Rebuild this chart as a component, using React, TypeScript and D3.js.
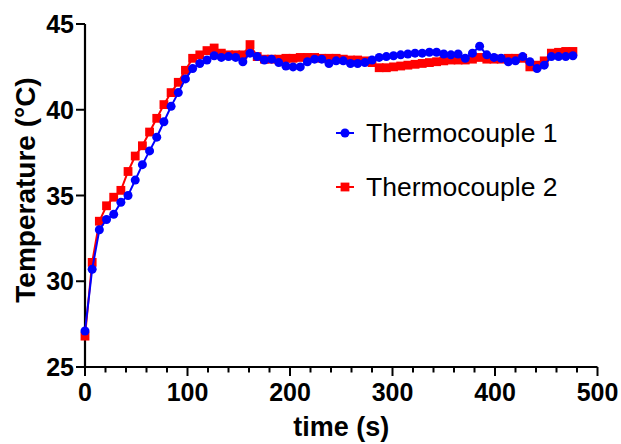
import * as d3 from "d3";
import React, { useEffect, useRef } from "react";

// sample times (s), one reading every 7 s
const times = d3.range(0, 477, 7);

const thermocouple1 = [
  27.1, 30.7, 33.0, 33.6, 33.9, 34.6, 35.0, 35.9, 36.8, 37.6, 38.4, 39.3, 40.2, 41.0, 41.8, 42.4, 42.7, 42.9,
  43.15, 43.05, 43.1, 43.05, 42.8, 43.3, 43.1, 42.9, 42.95, 42.75, 42.55, 42.5, 42.5, 42.8, 42.95, 42.95, 42.7,
  42.85, 42.85, 42.7, 42.7, 42.75, 42.9, 43.05, 43.1, 43.15, 43.2, 43.25, 43.3, 43.3, 43.35, 43.35, 43.25, 43.2,
  43.25, 43.0, 43.3, 43.7, 43.2, 43.05, 43.0, 42.8, 42.85, 43.1, 42.8, 42.4, 42.6, 43.1, 43.1, 43.1, 43.15,
];

const thermocouple2 = [
  26.8, 31.1, 33.5, 34.4, 34.9, 35.3, 36.4, 37.3, 37.9, 38.7, 39.5, 40.3, 41.0, 41.6, 42.3, 43.0, 43.2, 43.45,
  43.6, 43.3, 43.2, 43.2, 43.2, 43.8, 43.1, 42.95, 42.95, 42.95, 43.0, 43.0, 43.05, 43.05, 43.05, 43.0, 43.0,
  43.0, 42.95, 42.9, 42.9, 42.85, 42.75, 42.45, 42.45, 42.5, 42.55, 42.6, 42.65, 42.7, 42.75, 42.8, 42.85, 42.9,
  42.9, 42.9, 42.95, 43.05, 42.95, 42.95, 42.95, 43.0, 43.0, 43.0, 42.5, 42.6, 42.85, 43.3, 43.35, 43.4, 43.4,
];

const seriesNames = ["Thermocouple 1", "Thermocouple 2"];
const seriesColors = ["#0000ff", "#ff0000"];
const xTicks = [0, 100, 200, 300, 400, 500];
const yTicks = [25, 30, 35, 40, 45];

const App: React.FC = () => {
  const svgRef = useRef<SVGSVGElement>(null);

  useEffect(() => {
    const width = 621;
    const height = 444;
    const font = "'Liberation Sans', Arial, Helvetica, sans-serif";

    const x = d3.scaleLinear().domain([0, 500]).range([85, 597.5]);
    const y = d3.scaleLinear().domain([25, 45]).range([367, 24]);

    const svg = d3.select(svgRef.current);
    svg.selectAll("*").remove();
    svg.attr("width", width).attr("height", height).attr("viewBox", `0 0 ${width} ${height}`);

    // x axis
    const xAxis = svg.append("g").attr("transform", `translate(0, ${y(25)})`);
    xAxis
      .append("line")
      .attr("x1", x(0))
      .attr("x2", x(500))
      .attr("stroke", "#000")
      .attr("stroke-width", 2.2);
    xAxis
      .selectAll("line.minor")
      .data(d3.range(0, 501, 20))
      .join("line")
      .attr("class", "minor")
      .attr("x1", (d) => x(d))
      .attr("x2", (d) => x(d))
      .attr("y1", 0)
      .attr("y2", (d) => (d % 100 === 0 ? 9 : 5.5))
      .attr("stroke", "#000")
      .attr("stroke-width", 2);
    xAxis
      .selectAll("text")
      .data(xTicks)
      .join("text")
      .attr("x", (d) => x(d))
      .attr("y", 34)
      .attr("text-anchor", "middle")
      .attr("font-family", font)
      .attr("font-weight", "bold")
      .attr("font-size", 25)
      .text((d) => d);

    // y axis
    const yAxis = svg.append("g").attr("transform", `translate(${x(0)}, 0)`);
    yAxis
      .append("line")
      .attr("y1", y(25) + 1)
      .attr("y2", y(45))
      .attr("stroke", "#000")
      .attr("stroke-width", 2.2);
    yAxis
      .selectAll("line.tick")
      .data(yTicks)
      .join("line")
      .attr("class", "tick")
      .attr("x1", -9)
      .attr("x2", 0)
      .attr("y1", (d) => y(d))
      .attr("y2", (d) => y(d))
      .attr("stroke", "#000")
      .attr("stroke-width", 2);
    yAxis
      .selectAll("text")
      .data(yTicks)
      .join("text")
      .attr("x", -11)
      .attr("y", (d) => y(d) + 9)
      .attr("text-anchor", "end")
      .attr("font-family", font)
      .attr("font-weight", "bold")
      .attr("font-size", 25)
      .text((d) => d);

    // axis titles
    svg
      .append("text")
      .attr("x", x(250))
      .attr("y", 436)
      .attr("text-anchor", "middle")
      .attr("font-family", font)
      .attr("font-weight", "bold")
      .attr("font-size", 27)
      .text("time (s)");
    svg
      .append("text")
      .attr("transform", `translate(35, 190) rotate(-90)`)
      .attr("text-anchor", "middle")
      .attr("font-family", font)
      .attr("font-weight", "bold")
      .attr("font-size", 28)
      .text("Temperature (°C)");

    const line = d3
      .line<number>()
      .x((_, i) => x(times[i]))
      .y((d) => y(d));

    // Thermocouple 2 (red squares) sits underneath
    svg
      .append("path")
      .attr("d", line(thermocouple2))
      .attr("fill", "none")
      .attr("stroke", seriesColors[1])
      .attr("stroke-width", 2);
    svg
      .append("g")
      .selectAll("rect")
      .data(thermocouple2)
      .join("rect")
      .attr("x", (_, i) => x(times[i]) - 4.4)
      .attr("y", (d) => y(d) - 4.4)
      .attr("width", 8.8)
      .attr("height", 8.8)
      .attr("fill", seriesColors[1]);

    // Thermocouple 1 (blue circles) on top
    svg
      .append("path")
      .attr("d", line(thermocouple1))
      .attr("fill", "none")
      .attr("stroke", seriesColors[0])
      .attr("stroke-width", 2);
    svg
      .append("g")
      .selectAll("circle")
      .data(thermocouple1)
      .join("circle")
      .attr("cx", (_, i) => x(times[i]))
      .attr("cy", (d) => y(d))
      .attr("r", 4.5)
      .attr("fill", seriesColors[0]);

    // legend
    const legend = svg
      .append("g")
      .selectAll("g")
      .data(seriesNames)
      .join("g")
      .attr("transform", (_, i) => `translate(345, ${133 + i * 54})`);
    legend
      .append("line")
      .attr("x1", -9)
      .attr("x2", 9)
      .attr("stroke", (_, i) => seriesColors[i])
      .attr("stroke-width", 2);
    legend.each(function (_, i) {
      const g = d3.select(this);
      if (i === 0) {
        g.append("circle").attr("r", 4.5).attr("fill", seriesColors[0]);
      } else {
        g.append("rect").attr("x", -4.4).attr("y", -4.4).attr("width", 8.8).attr("height", 8.8).attr("fill", seriesColors[1]);
      }
    });
    legend
      .append("text")
      .attr("x", 21)
      .attr("y", 9)
      .attr("font-family", font)
      .attr("font-size", 26.5)
      .attr("fill", "#000")
      .text((d) => d);
  }, []);

  return (
    <div style={{ position: "absolute", left: 0, top: 0 }}>
      <svg ref={svgRef} style={{ display: "block" }} />
    </div>
  );
};

export default App;
